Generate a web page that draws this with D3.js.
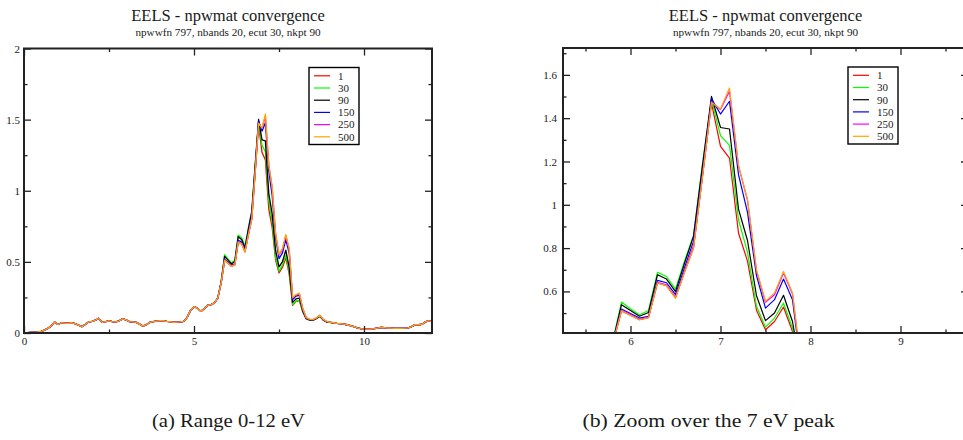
<!DOCTYPE html>
<html>
<head>
<meta charset="utf-8">
<script src="https://cdn.jsdelivr.net/npm/d3@7"></script>
<style>
  body { margin: 0; background: #fff; }
  svg { display: block; }
  text { font-family: "Liberation Serif", "DejaVu Serif", "Noto Serif", "Times New Roman", Times, serif; fill: #1a1a1a; }
</style>
</head>
<body>
<svg id="fig" width="963" height="440"></svg>
<script>
// Energy grid (eV), 0.1 eV step from 0 to 12
const energy = d3.range(121).map(i => +(i * 0.1).toFixed(1));

// Loss function below the plasmon region (0.0 - 5.7 eV), identical for all npwmat
const lowBand = [
  0.000, 0.002, 0.004, 0.006, 0.008, 0.012, 0.020, 0.032, 0.050, 0.078,
  0.060, 0.072, 0.070, 0.068, 0.072, 0.066, 0.055, 0.045, 0.060, 0.078,
  0.082, 0.090, 0.103, 0.075, 0.080, 0.085, 0.080, 0.078, 0.085, 0.100,
  0.092, 0.080, 0.078, 0.075, 0.062, 0.048, 0.058, 0.075, 0.080, 0.084,
  0.086, 0.086, 0.082, 0.080, 0.074, 0.076, 0.078, 0.082, 0.110, 0.160,
  0.185, 0.175, 0.152, 0.170, 0.195, 0.200, 0.212, 0.245
];

// Tail above the peak (9.0 - 12.0 eV), identical for all npwmat
const highBand = [
  0.075, 0.072, 0.068, 0.066, 0.062, 0.058, 0.052, 0.045, 0.036, 0.030,
  0.028, 0.027, 0.028, 0.030, 0.035, 0.040, 0.038, 0.035, 0.034, 0.033,
  0.032, 0.033, 0.034, 0.036, 0.045, 0.058, 0.058, 0.060, 0.078, 0.085,
  0.082
];

// Peak region (5.8 - 8.9 eV), one array per npwmat value
const peak1 = [
  0.352, 0.510, 0.490, 0.469, 0.479, 0.639, 0.627, 0.570, 0.690, 0.800,
  1.130, 1.470, 1.270, 1.216, 0.870, 0.740, 0.513, 0.423, 0.461, 0.528,
  0.415, 0.195, 0.222, 0.228, 0.148, 0.099, 0.090, 0.090, 0.100, 0.118,
  0.090, 0.077
];
const peak30 = [
  0.365, 0.551, 0.520, 0.492, 0.512, 0.688, 0.669, 0.611, 0.740, 0.859,
  1.190, 1.486, 1.319, 1.274, 0.931, 0.780, 0.531, 0.435, 0.477, 0.546,
  0.431, 0.200, 0.225, 0.230, 0.150, 0.100, 0.090, 0.090, 0.100, 0.118,
  0.090, 0.077
];
const peak90 = [
  0.362, 0.539, 0.512, 0.485, 0.503, 0.677, 0.657, 0.599, 0.730, 0.854,
  1.180, 1.501, 1.357, 1.350, 0.980, 0.835, 0.580, 0.465, 0.500, 0.582,
  0.461, 0.215, 0.240, 0.245, 0.155, 0.102, 0.092, 0.091, 0.102, 0.120,
  0.092, 0.078
];
const peak150 = [
  0.358, 0.519, 0.498, 0.477, 0.485, 0.651, 0.640, 0.585, 0.710, 0.831,
  1.150, 1.489, 1.419, 1.478, 1.139, 0.965, 0.673, 0.523, 0.562, 0.657,
  0.562, 0.235, 0.260, 0.265, 0.165, 0.105, 0.094, 0.093, 0.104, 0.123,
  0.094, 0.080
];
const peak250 = [
  0.355, 0.514, 0.493, 0.471, 0.481, 0.642, 0.630, 0.574, 0.695, 0.810,
  1.135, 1.475, 1.440, 1.524, 1.180, 1.020, 0.695, 0.550, 0.585, 0.685,
  0.588, 0.245, 0.268, 0.275, 0.170, 0.107, 0.096, 0.094, 0.105, 0.124,
  0.095, 0.081
];
const peak500 = [
  0.354, 0.511, 0.490, 0.469, 0.479, 0.639, 0.627, 0.570, 0.688, 0.800,
  1.130, 1.473, 1.442, 1.539, 1.180, 1.025, 0.700, 0.554, 0.593, 0.692,
  0.593, 0.250, 0.270, 0.280, 0.172, 0.108, 0.097, 0.095, 0.106, 0.125,
  0.096, 0.082
];

const seriesNames = ["1", "30", "90", "150", "250", "500"];
const seriesColors = ["#ff0000", "#00ff00", "#000000", "#0000ff", "#ff00ff", "#ffa500"];
const peakData = [peak1, peak30, peak90, peak150, peak250, peak500];

const series = seriesNames.map((name, i) => {
  const values = lowBand.concat(peakData[i], highBand);
  return { name, color: seriesColors[i], points: energy.map((e, j) => [e, values[j]]) };
});

// Axis ticks and labels for the two panels
const fullXMajor = [0, 5, 10];
const fullXLabels = ["0", "5", "10"];
const fullXMinor = [2.5, 7.5];
const fullYMajor = [0, 0.5, 1, 1.5, 2];
const fullYLabels = ["0", "0.5", "1", "1.5", "2"];
const fullYMinor = [0.25, 0.75, 1.25, 1.75];

const zoomXMajor = [6, 7, 8, 9];
const zoomXLabels = ["6", "7", "8", "9"];
const zoomXMinor = [5.5, 6.5, 7.5, 8.5, 9.5];
const zoomYMajor = [0.6, 0.8, 1.0, 1.2, 1.4, 1.6];
const zoomYLabels = ["0.6", "0.8", "1", "1.2", "1.4", "1.6"];
const zoomYMinor = [0.5, 0.7, 0.9, 1.1, 1.3, 1.5, 1.7];

const titleText = "EELS - npwmat convergence";
const subtitleText = "npwwfn 797, nbands 20, ecut 30, nkpt 90";

const panels = [
  {
    id: "full", left: 24, right: 432, top: 48.5, bottom: 333,
    xDomain: [0, 12], yDomain: [0, 2],
    xMajor: fullXMajor, xLabels: fullXLabels, xMinor: fullXMinor,
    yMajor: fullYMajor, yLabels: fullYLabels, yMinor: fullYMinor,
    lineWidth: 1.3, labelPad: 4,
    caption: "(a) Range 0-12 eV", captionX: 228.5, captionWidth: 153
  },
  {
    id: "zoom", left: 563, right: 968, top: 48, bottom: 333,
    xDomain: [5.25, 9.75], yDomain: [0.408, 1.724],
    xMajor: zoomXMajor, xLabels: zoomXLabels, xMinor: zoomXMinor,
    yMajor: zoomYMajor, yLabels: zoomYLabels, yMinor: zoomYMinor,
    lineWidth: 1.2, labelPad: 6,
    caption: "(b) Zoom over the 7 eV peak", captionX: 708.5, captionWidth: 252
  }
];

const serifStack = "'Liberation Serif', 'DejaVu Serif', 'Noto Serif', 'Times New Roman', Times, serif";
const svg = d3.select("#fig");
const frameColor = "#222";
const majorLen = 7, minorLen = 3.5;

panels.forEach(p => {
  const x = d3.scaleLinear().domain(p.xDomain).range([p.left, p.right]);
  const y = d3.scaleLinear().domain(p.yDomain).range([p.bottom, p.top]);
  const g = svg.append("g");
  const cx = (p.left + p.right) / 2;

  // Titles
  g.append("text").attr("x", cx).attr("y", 20.5).attr("text-anchor", "middle")
    .style("font-family", serifStack).style("font-size", "16.5px").text(titleText);
  g.append("text").attr("x", cx).attr("y", 36).attr("text-anchor", "middle")
    .style("font-family", serifStack).style("font-size", "11.2px").text(subtitleText);

  // Clip region for the curves
  const clipId = "clip-" + p.id;
  svg.append("clipPath").attr("id", clipId).append("rect")
    .attr("x", p.left).attr("y", p.top)
    .attr("width", p.right - p.left).attr("height", p.bottom - p.top);

  const line = d3.line().x(d => x(d[0])).y(d => y(d[1]));
  g.append("g").attr("clip-path", `url(#${clipId})`)
    .selectAll("path").data(series).join("path")
    .attr("d", d => line(d.points))
    .attr("fill", "none")
    .attr("stroke", d => d.color)
    .attr("stroke-width", p.lineWidth)
    .attr("stroke-linejoin", "round");

  // Inward ticks on all four sides
  const styleAxis = sel => {
    sel.attr("font-family", null).attr("font-size", null);
    sel.select(".domain").remove();
    sel.selectAll(".tick line").attr("stroke", frameColor).attr("stroke-width", 1.3);
    sel.selectAll("text").style("font-size", "11px").attr("fill", "#1a1a1a")
      .style("font-family", serifStack);
  };

  const fmt = (vals, labels) => v => labels[vals.indexOf(v)];

  g.append("g").attr("transform", `translate(0,${p.bottom})`)
    .call(d3.axisBottom(x).tickValues(p.xMajor).tickFormat(fmt(p.xMajor, p.xLabels))
      .tickSize(-majorLen).tickPadding(4))
    .call(styleAxis);
  g.append("g").attr("transform", `translate(0,${p.bottom})`)
    .call(d3.axisBottom(x).tickValues(p.xMinor).tickFormat("").tickSize(-minorLen))
    .call(styleAxis);
  g.append("g").attr("transform", `translate(0,${p.top})`)
    .call(d3.axisTop(x).tickValues(p.xMajor).tickFormat("").tickSize(-majorLen))
    .call(styleAxis);
  g.append("g").attr("transform", `translate(0,${p.top})`)
    .call(d3.axisTop(x).tickValues(p.xMinor).tickFormat("").tickSize(-minorLen))
    .call(styleAxis);

  g.append("g").attr("transform", `translate(${p.left},0)`)
    .call(d3.axisLeft(y).tickValues(p.yMajor).tickFormat(fmt(p.yMajor, p.yLabels))
      .tickSize(-majorLen).tickPadding(p.labelPad))
    .call(styleAxis);
  g.append("g").attr("transform", `translate(${p.left},0)`)
    .call(d3.axisLeft(y).tickValues(p.yMinor).tickFormat("").tickSize(-minorLen))
    .call(styleAxis);
  g.append("g").attr("transform", `translate(${p.right},0)`)
    .call(d3.axisRight(y).tickValues(p.yMajor).tickFormat("").tickSize(-majorLen))
    .call(styleAxis);
  g.append("g").attr("transform", `translate(${p.right},0)`)
    .call(d3.axisRight(y).tickValues(p.yMinor).tickFormat("").tickSize(-minorLen))
    .call(styleAxis);

  // Frame
  g.append("rect")
    .attr("x", p.left).attr("y", p.top)
    .attr("width", p.right - p.left).attr("height", p.bottom - p.top)
    .attr("fill", "none").attr("stroke", frameColor).attr("stroke-width", 2);

  // Legend
  const lx = p.left + 285, ly = p.top + 19;
  const legend = g.append("g").attr("transform", `translate(${lx},${ly})`);
  legend.append("rect").attr("width", 50).attr("height", 77)
    .attr("fill", "#fff").attr("stroke", "#000").attr("stroke-width", 1.4);
  const rows = legend.selectAll("g.row").data(series).join("g").attr("class", "row")
    .attr("transform", (d, i) => `translate(0,${8.3 + i * 12.2})`);
  rows.append("line").attr("x1", 5).attr("x2", 21).attr("y1", 0).attr("y2", 0)
    .attr("stroke", d => d.color).attr("stroke-width", 1.2);
  rows.append("text").attr("x", 29).attr("y", 3.8)
    .style("font-family", serifStack).style("font-size", "11px").text(d => d.name);

  // Sub-figure caption
  svg.append("text").attr("x", p.captionX).attr("y", 427).attr("text-anchor", "middle")
    .attr("textLength", p.captionWidth).attr("lengthAdjust", "spacingAndGlyphs")
    .style("font-family", serifStack).style("font-size", "19.5px").text(p.caption);
});
</script>
</body>
</html>
